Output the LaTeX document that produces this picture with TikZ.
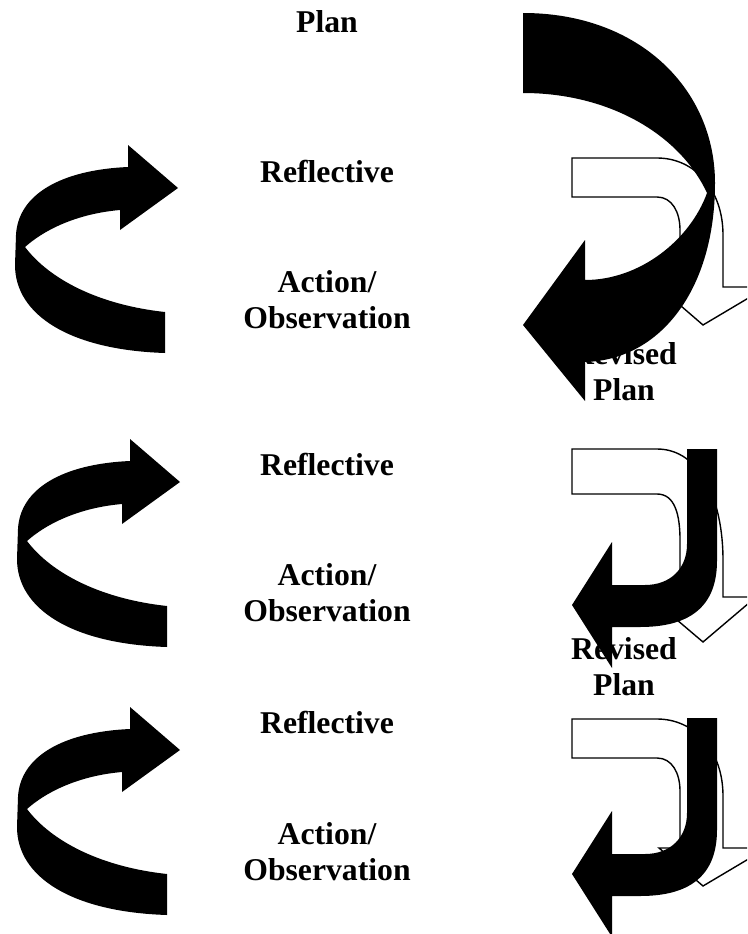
\documentclass[tikz,border=0pt]{standalone}
\usepackage{fontspec}
\setmainfont{Liberation Serif}
\tikzset{
  cyclelabel/.style={font=\fontsize{31.7}{36}\selectfont\bfseries,align=center,inner sep=0pt},
  solidarrow/.style={fill=black,draw=none},
  openarrow/.style={fill=white,draw=black,line width=1.4pt,line join=miter}
}
\begin{document}
\begin{tikzpicture}[x=1pt,y=-1pt]
  \useasboundingbox (0,0) rectangle (747,934);
  \clip (0,0) rectangle (747,934);
  % labels (two-line labels sit on their last baseline)
  \node[cyclelabel,anchor=base] (plan) at (327,33) {Plan};
  \node[cyclelabel,anchor=base] (refl1) at (327,182) {Reflective};
  \node[cyclelabel,anchor=base] (act1) at (327,328) {Action/\\Observation};
  \node[cyclelabel,anchor=base] (rev1) at (624,400) {Revised\\Plan};
  \node[cyclelabel,anchor=base] (refl2) at (327,475) {Reflective};
  \node[cyclelabel,anchor=base] (act2) at (327,621) {Action/\\Observation};
  \node[cyclelabel,anchor=base] (rev2) at (624,695) {Revised\\Plan};
  \node[cyclelabel,anchor=base] (refl3) at (327,733) {Reflective};
  \node[cyclelabel,anchor=base] (act3) at (327,880) {Action/\\Observation};
  % open arrows (behind)
  \draw[openarrow] (572,158) -- (657,158) .. controls (695,158) and (723,190) .. (723,235)
    -- (723,287) -- (767,287) -- (703,325) -- (659,287) -- (680,287) -- (680,230)
    .. controls (680,212) and (672,197) .. (657,197) -- (572,197) -- cycle;
  \draw[openarrow] (572,449) -- (657,449) .. controls (700,449) and (723,500) .. (723,560)
    -- (723,597) -- (756,597) -- (703,642) -- (650,597) -- (680,597) -- (680,540)
    .. controls (680,515) and (675,494) .. (657,494) -- (572,494) -- cycle;
  \begin{scope}[shift={(0,561)}]
    \draw[openarrow] (572,158) -- (657,158) .. controls (695,158) and (723,190) .. (723,235)
      -- (723,287) -- (767,287) -- (703,325) -- (659,287) -- (680,287) -- (680,230)
      .. controls (680,212) and (672,197) .. (657,197) -- (572,197) -- cycle;
  \end{scope}
  % big turning arrow
  \fill[solidarrow] (523,13) .. controls (640,13) and (715,90) .. (715,183)
    .. controls (715,290) and (660,360) .. (585,362) -- (585,401) -- (523,325)
    -- (585,240) -- (585,280) .. controls (640,280) and (690,240) .. (707,193)
    .. controls (680,135) and (610,93) .. (523,93) -- cycle;
  % small turning arrows
  \foreach \yo in {449,718}{
    \fill[solidarrow] (717,\yo) -- (717,\yo+112) .. controls (717,\yo+165) and (680,\yo+178) .. (640,\yo+178)
      -- (612,\yo+178) -- (612,\yo+219) -- (572,\yo+156) -- (612,\yo+93) -- (612,\yo+136)
      -- (645,\yo+136) .. controls (670,\yo+136) and (687,\yo+120) .. (687,\yo+95) -- (687,\yo) -- cycle;
  }
  % curling arrows on the left
  \foreach \yo/\xo in {0/0,294/2,562/2}{
    \begin{scope}[shift={(\xo,\yo)}]
      \fill[solidarrow] (178,188) -- (128,145) -- (128,167) .. controls (60,170) and (18,195) .. (16,235)
        -- (15,265) .. controls (15,315) and (70,350) .. (165,353) -- (165,312)
        .. controls (100,305) and (50,280) .. (25,247) .. controls (50,225) and (85,213) .. (120,210)
        -- (120,230) -- cycle;
    \end{scope}
  }
\end{tikzpicture}
\end{document}
